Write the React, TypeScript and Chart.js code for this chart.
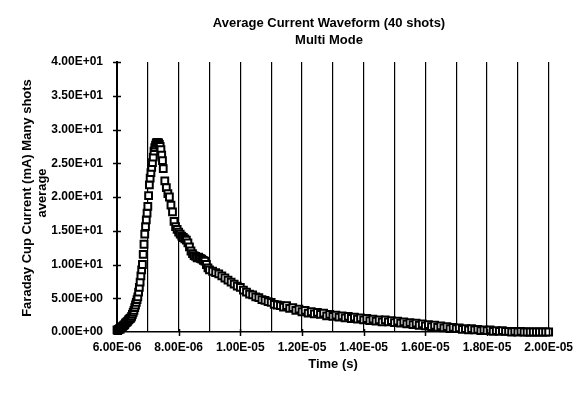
import React, { useEffect, useRef } from 'react';
import { Chart, registerables } from 'chart.js';

Chart.register(...registerables);

const TITLE_LINES = ['Average Current Waveform (40 shots)', 'Multi Mode'];
const X_TITLE = 'Time (s)';
const Y_TITLE_LINES = ['Faraday Cup Current (mA) Many shots', 'average'];

// time in microseconds (axis shows seconds)
const timeUs = [
  6.000, 6.025, 6.050, 6.075, 6.100, 6.125, 6.150, 6.175, 6.200, 6.225,
  6.250, 6.275, 6.300, 6.325, 6.350, 6.375, 6.400, 6.425, 6.450, 6.475,
  6.500, 6.525, 6.550, 6.575, 6.600, 6.625, 6.650, 6.675, 6.700, 6.725,
  6.750, 6.775, 6.800, 6.825, 6.850, 6.875, 6.900, 6.925, 6.950, 6.975,
  7.000, 7.025, 7.050, 7.075, 7.100, 7.125, 7.150, 7.175, 7.200, 7.225,
  7.250, 7.275, 7.300, 7.325, 7.350, 7.375, 7.400, 7.425, 7.450, 7.475,
  7.500,
  7.55, 7.60, 7.65, 7.70, 7.75, 7.80, 7.85, 7.90, 7.95, 8.00,
  8.05, 8.10, 8.15, 8.20, 8.25, 8.30, 8.35, 8.40, 8.45, 8.50,
  8.55, 8.60, 8.65, 8.70, 8.75, 8.80, 8.85, 8.90, 8.95, 9.00,
  9.1, 9.2, 9.3, 9.4, 9.5, 9.6, 9.7, 9.8, 9.9, 10.0,
  10.1, 10.2, 10.3, 10.4, 10.5, 10.6, 10.7, 10.8, 10.9, 11.0,
  11.1, 11.2, 11.3, 11.4, 11.5, 11.6, 11.7, 11.8, 11.9, 12.0,
  12.1, 12.2, 12.3, 12.4, 12.5, 12.6, 12.7, 12.8, 12.9, 13.0,
  13.1, 13.2, 13.3, 13.4, 13.5, 13.6, 13.7, 13.8, 13.9, 14.0,
  14.1, 14.2, 14.3, 14.4, 14.5, 14.6, 14.7, 14.8, 14.9, 15.0,
  15.1, 15.2, 15.3, 15.4, 15.5, 15.6, 15.7, 15.8, 15.9, 16.0,
  16.1, 16.2, 16.3, 16.4, 16.5, 16.6, 16.7, 16.8, 16.9, 17.0,
  17.1, 17.2, 17.3, 17.4, 17.5, 17.6, 17.7, 17.8, 17.9, 18.0,
  18.1, 18.2, 18.3, 18.4, 18.5, 18.6, 18.7, 18.8, 18.9, 19.0,
  19.1, 19.2, 19.3, 19.4, 19.5, 19.6, 19.7, 19.8, 19.9, 20.0,
];

// Faraday cup current, mA
const currentMA = [
  0.3, 0.2, 0.4, 0.5, 0.4, 0.6, 0.7, 0.8, 0.9, 1.0,
  1.1, 1.3, 1.4, 1.5, 1.6, 1.8, 1.9, 2.0, 2.1, 2.3,
  2.6, 2.9, 3.2, 3.6, 4.0, 4.4, 4.8, 5.2, 5.9, 6.6,
  7.4, 8.3, 9.2, 10.0, 11.5, 13.0, 14.5, 15.6, 16.6, 17.6,
  18.6, 20.2, 21.8, 22.8, 23.6, 24.4, 25.1, 25.9, 26.8, 27.3,
  27.7, 28.0, 28.1, 28.0, 28.0, 27.8, 27.5, 27.0, 26.2, 25.4,
  24.2,
  22.4, 21.4, 20.5, 20.0, 18.8, 17.8, 16.4, 15.6, 15.2, 14.8,
  14.5, 14.2, 14.0, 13.8, 13.6, 13.2, 12.6, 12.0, 11.6, 11.3,
  11.2, 11.0, 11.1, 10.9, 10.8, 10.6, 10.5, 10.0, 9.5, 9.2,
  9.0, 8.8, 8.6, 8.3, 8.0, 7.7, 7.4, 7.1, 6.8, 6.6,
  6.2, 5.9, 5.6, 5.5, 5.2, 5.1, 4.8, 4.7, 4.5, 4.4,
  4.1, 4.0, 3.9, 3.7, 3.9, 3.5, 3.6, 3.2, 3.4, 3.0,
  3.2, 2.8, 3.0, 2.7, 2.9, 2.6, 2.8, 2.4, 2.6, 2.3,
  2.5, 2.2, 2.4, 2.1, 2.3, 2.0, 2.2, 1.9, 2.1, 1.8,
  2.0, 1.7, 1.9, 1.6, 1.8, 1.5, 1.8, 1.5, 1.7, 1.4,
  1.6, 1.3, 1.5, 1.2, 1.4, 1.1, 1.3, 1.0, 1.2, 0.9,
  1.1, 0.8, 1.0, 0.7, 0.9, 0.6, 0.8, 0.5, 0.7, 0.5,
  0.6, 0.4, 0.5, 0.3, 0.5, 0.3, 0.4, 0.2, 0.3, 0.2,
  0.3, 0.1, 0.2, 0.1, 0.2, 0.1, 0.1, 0.0, 0.1, 0.0,
  0.1, 0.0, 0.0, 0.0, 0.0, 0.0, 0.0, 0.0, 0.0, 0.0,
];

const X_MIN_US = 6;
const X_MAX_US = 20;
const Y_MIN = 0;
const Y_MAX = 40;
const Y_STEP = 5;

const FONT = '"Liberation Sans", Arial, Helvetica, sans-serif';

function sci(v: number): string {
  const s = v.toExponential(2);
  const [m, e] = s.split('e');
  const n = parseInt(e, 10);
  return m + 'E' + (n < 0 ? '-' : '+') + String(Math.abs(n)).padStart(2, '0');
}

const decorPlugin = {
  id: 'decor',
  afterDraw(chart: any) {
    const ctx = chart.ctx;
    const ca = chart.chartArea;
    const xs = chart.scales.x;
    const ys = chart.scales.y;
    ctx.save();
    ctx.strokeStyle = '#000';
    ctx.lineWidth = 1.5;
    for (let v = Y_MIN + Y_STEP; v <= Y_MAX; v += Y_STEP) {
      const y = Math.round(ys.getPixelForValue(v)) + 0.5;
      ctx.beginPath();
      ctx.moveTo(ca.left - 4, y);
      ctx.lineTo(ca.left + 4, y);
      ctx.stroke();
    }
    for (let v = X_MIN_US + 2; v <= X_MAX_US; v += 2) {
      const x = Math.round(xs.getPixelForValue(v)) + 0.5;
      ctx.beginPath();
      ctx.moveTo(x, ca.bottom - 3);
      ctx.lineTo(x, ca.bottom + 4);
      ctx.stroke();
    }
    ctx.fillStyle = '#000';
    ctx.textAlign = 'center';
    ctx.textBaseline = 'middle';
    ctx.font = 'bold 13px ' + FONT;
    ctx.fillText(TITLE_LINES[0], 329, 23);
    ctx.fillText(TITLE_LINES[1], 329, 40);
    ctx.fillText(X_TITLE, 333, 364);
    ctx.save();
    ctx.translate(27, 198);
    ctx.rotate(-Math.PI / 2);
    ctx.fillText(Y_TITLE_LINES[0], 0, 0);
    ctx.restore();
    ctx.save();
    ctx.translate(42, 193);
    ctx.rotate(-Math.PI / 2);
    ctx.fillText(Y_TITLE_LINES[1], 0, 0);
    ctx.restore();
    ctx.restore();
  },
};

export default function App() {
  const ref = useRef<HTMLCanvasElement | null>(null);
  useEffect(() => {
    if (!ref.current) return;
    Chart.defaults.color = '#000';
    const points = timeUs.map((t, i) => ({ x: t, y: currentMA[i] }));
    const chart = new Chart(ref.current, {
      type: 'scatter',
      data: {
        datasets: [
          {
            data: points,
            pointStyle: 'rect',
            pointRadius: 4.8,
            pointBorderWidth: 2,
            pointBackgroundColor: '#fff',
            pointBorderColor: '#000',
            showLine: false,
            clip: false,
          } as any,
        ],
      },
      options: {
        responsive: false,
        animation: false,
        events: [],
        layout: { padding: { top: 62, right: 26, bottom: 0, left: 0 } },
        plugins: { legend: { display: false }, title: { display: false }, tooltip: { enabled: false } },
        scales: {
          x: {
            type: 'linear',
            min: X_MIN_US,
            max: X_MAX_US,
            afterFit: (s: any) => { s.height = 62; },
            ticks: {
              stepSize: 1,
              autoSkip: false,
              maxRotation: 0,
              padding: 8,
              font: { family: FONT, size: 12, weight: 'bold' },
              color: '#000',
              callback: (v: any) => (Math.round(v) % 2 === 0 ? sci(Number(v) * 1e-6) : ''),
            },
            grid: { color: '#000', lineWidth: 1.2, drawTicks: false },
            border: { display: true, color: '#000', width: 1.5 },
          },
          y: {
            type: 'linear',
            min: Y_MIN,
            max: Y_MAX,
            afterFit: (s: any) => { s.width = 117; },
            ticks: {
              stepSize: Y_STEP,
              padding: 14,
              font: { family: FONT, size: 12, weight: 'bold' },
              color: '#000',
              callback: (v: any) => sci(Number(v)),
            },
            grid: { display: false, drawTicks: false },
            border: { display: true, color: '#000', width: 2 },
          },
        },
      },
      plugins: [decorPlugin],
    } as any);
    return () => chart.destroy();
  }, []);
  return (
    <div style={{ position: 'absolute', left: 0, top: 0, width: 581, height: 394, background: '#fff' }}>
      <canvas ref={ref} width={581} height={394} style={{ display: 'block' }} />
    </div>
  );
}
